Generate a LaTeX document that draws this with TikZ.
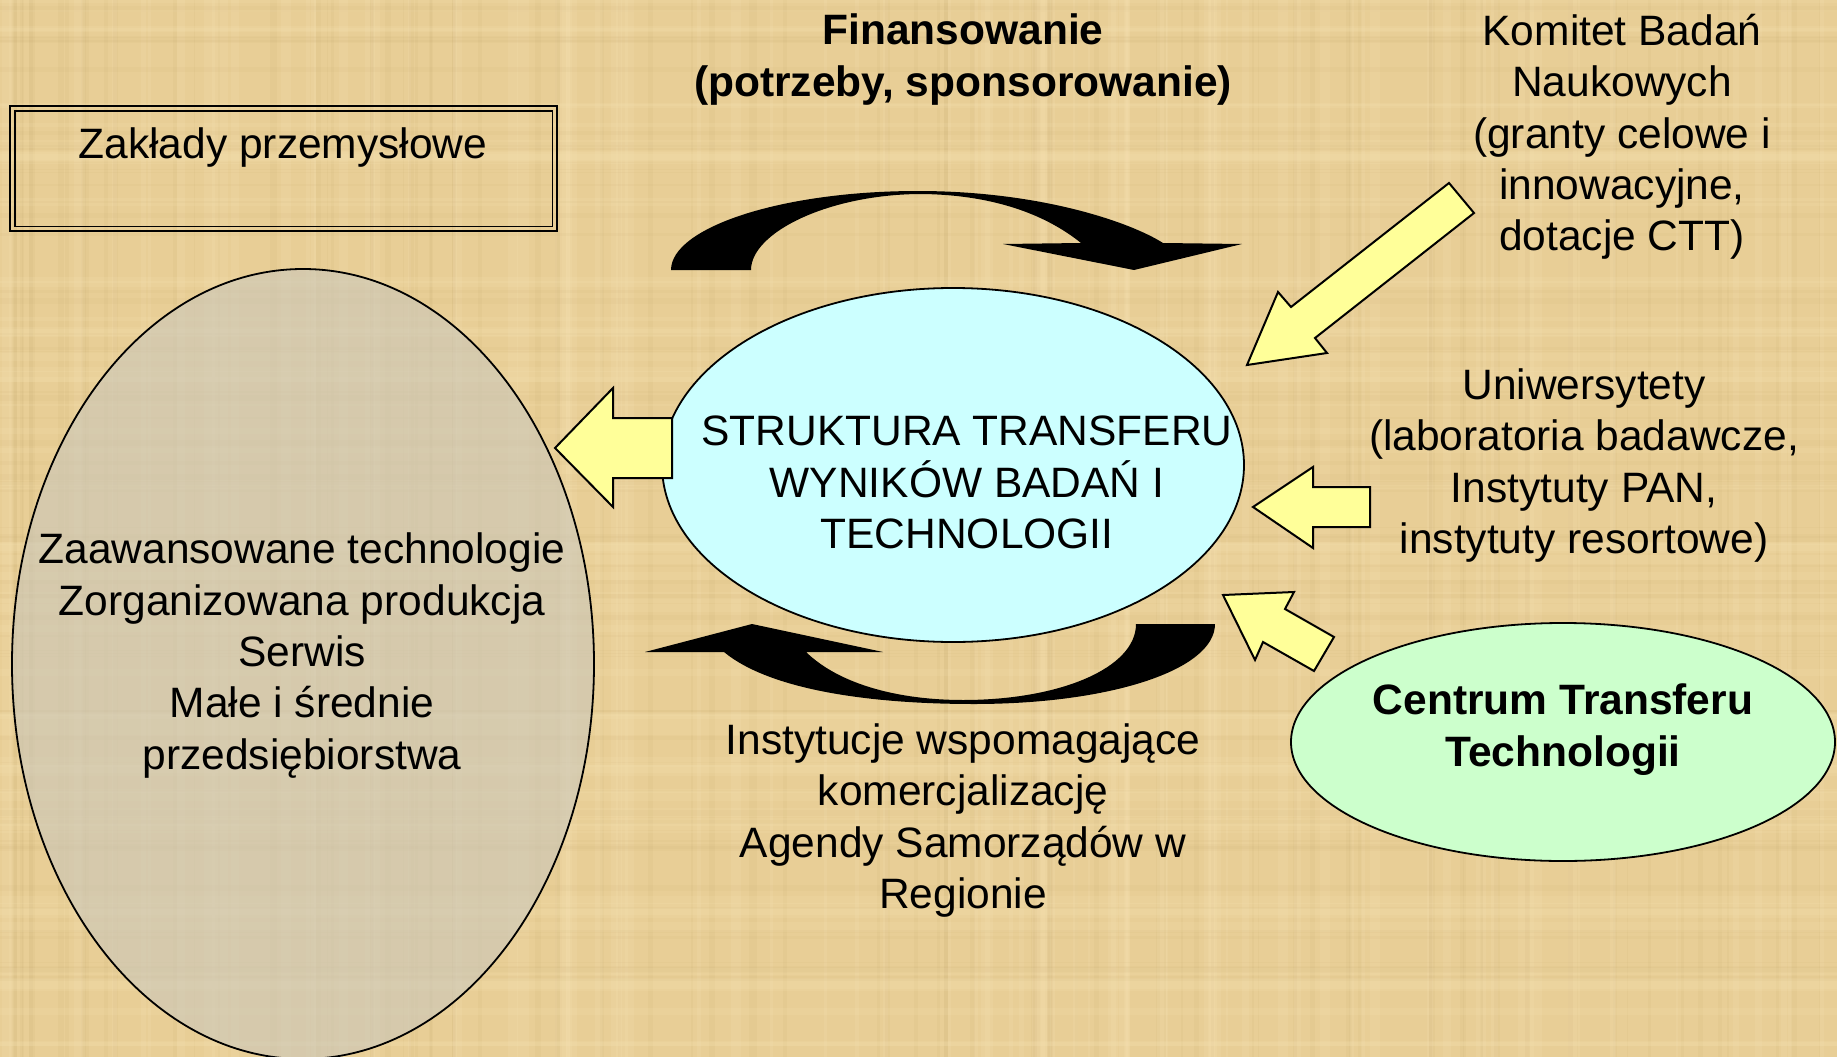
\documentclass[tikz,border=0pt]{standalone}
\usepackage{fontspec}
\setmainfont{Liberation Sans}
\usetikzlibrary{shapes.geometric}

\definecolor{papyrus}{RGB}{232,206,150}
\definecolor{fibrelight}{RGB}{248,228,180}
\definecolor{fibredark}{RGB}{196,168,110}
\definecolor{stone}{RGB}{202,199,187}
\definecolor{skyfill}{RGB}{204,255,255}
\definecolor{mintfill}{RGB}{204,255,204}
\definecolor{lemon}{RGB}{255,255,153}

\begin{document}
\begin{tikzpicture}[x=1pt,y=-1pt,
  lbl/.style={align=center,inner sep=0pt,font=\fontsize{42.5}{51.3}\selectfont},
  boldlbl/.style={lbl,font=\fontsize{42.5}{51.3}\selectfont\bfseries},
  oval/.style={ellipse,draw=black,line width=1.8pt,inner sep=0pt},
  blockarrow/.style={fill=lemon,draw=black,line width=2pt,line join=miter},
  bentarrow/.style={fill=black}]

% page and background
\useasboundingbox (0,0) rectangle (1837,1057);
\fill[papyrus] (0,0) rectangle (1837,1057);

% woven papyrus fibres
\pgfmathsetseed{11}
\foreach \i in {1,...,90}{
  \pgfmathsetmacro\fx{rnd*1837}
  \pgfmathsetmacro\fw{2+rnd*10}
  \fill[fibrelight,opacity=0.18] (\fx,0) rectangle ++(\fw,1057);
  \pgfmathsetmacro\gx{rnd*1837}
  \pgfmathsetmacro\gw{1+rnd*6}
  \fill[fibredark,opacity=0.10] (\gx,0) rectangle ++(\gw,1057);
}
\foreach \i in {1,...,60}{
  \pgfmathsetmacro\fy{rnd*1057}
  \pgfmathsetmacro\fh{2+rnd*10}
  \fill[fibrelight,opacity=0.16] (0,\fy) rectangle ++(1837,\fh);
  \pgfmathsetmacro\gy{rnd*1057}
  \pgfmathsetmacro\gh{1+rnd*5}
  \fill[fibredark,opacity=0.08] (0,\gy) rectangle ++(1837,\gh);
}

% frame with a double border
\node[draw=black,line width=2.5pt,minimum width=547pt,minimum height=125pt,inner sep=0pt] (plantbox) at (283.5,168.5) {};
\draw[line width=1.5pt] ([shift={(6pt,-6pt)}]plantbox.north west) rectangle ([shift={(-6pt,6pt)}]plantbox.south east);
\node[lbl] (plants) at (283,147.5) {Zakłady przemysłowe};

% ovals
\node[oval,fill=stone,fill opacity=0.6,minimum width=582pt,minimum height=790pt] (firms) at (303,664) {};
\node[oval,fill=skyfill,minimum width=582pt,minimum height=354pt] (core) at (953,465) {};
\node[oval,fill=mintfill,minimum width=544pt,minimum height=238pt] (ctt) at (1563,742) {};

% texts
\node[lbl] (firmstext) at (302,655.5) {Zaawansowane technologie\\Zorganizowana produkcja\\Serwis\\Małe i średnie\\przedsiębiorstwa};
\node[lbl] (coretext) at (967,482.5) {STRUKTURA TRANSFERU\\WYNIKÓW BADAŃ I\\TECHNOLOGII};
\node[boldlbl] (ctttext) at (1563,729.5) {Centrum Transferu\\Technologii};
\node[boldlbl] (funding) at (963,59.5) {Finansowanie\\(potrzeby, sponsorowanie)};
\node[lbl] (kbn) at (1622,137) {Komitet Badań\\Naukowych\\(granty celowe i\\innowacyjne,\\dotacje CTT)};
\node[lbl] (unis) at (1584,465.5) {Uniwersytety\\(laboratoria badawcze,\\Instytuty PAN,\\instytuty resortowe)};
\node[lbl] (support) at (963,820.5) {Instytucje wspomagające\\komercjalizację\\Agendy Samorządów w\\Regionie};

% bent black arrow over the core oval
\fill[bentarrow] (671,270) .. controls (671,228) and (780,191) .. (918,191)
  .. controls (1040,191) and (1130,222) .. (1163,243)
  -- (1242,244) -- (1134,270) -- (1003,244) -- (1081,243)
  .. controls (1050,218) and (1000,195) .. (922,194)
  .. controls (830,194) and (751,232) .. (751,270) -- cycle;

% bent black arrow under the core oval
\fill[bentarrow] (1215,624) .. controls (1215,670) and (1110,704) .. (974,704)
  .. controls (870,704) and (770,690) .. (724,652)
  -- (645,652) -- (752,624) -- (883,652) -- (806,652)
  .. controls (840,685) and (900,700) .. (963,700)
  .. controls (1060,700) and (1136,668) .. (1136,624) -- cycle;

% yellow block arrows
\draw[blockarrow] (555,448) -- (613,388) -- (613,418) -- (672,418) -- (672,478) -- (613,478) -- (613,507) -- cycle;
\draw[blockarrow] (1253,507) -- (1313,467) -- (1313,487) -- (1370,487) -- (1370,527) -- (1313,527) -- (1313,548) -- cycle;
\draw[blockarrow] (1223,595) -- (1294,592) -- (1285,609) -- (1334,637) -- (1314,671) -- (1263,642) -- (1255,660) -- cycle;
\draw[blockarrow] (1247,365) -- (1278,292) -- (1291,307) -- (1449,183) -- (1474,213) -- (1315,338) -- (1327,353) -- cycle;

\end{tikzpicture}
\end{document}
